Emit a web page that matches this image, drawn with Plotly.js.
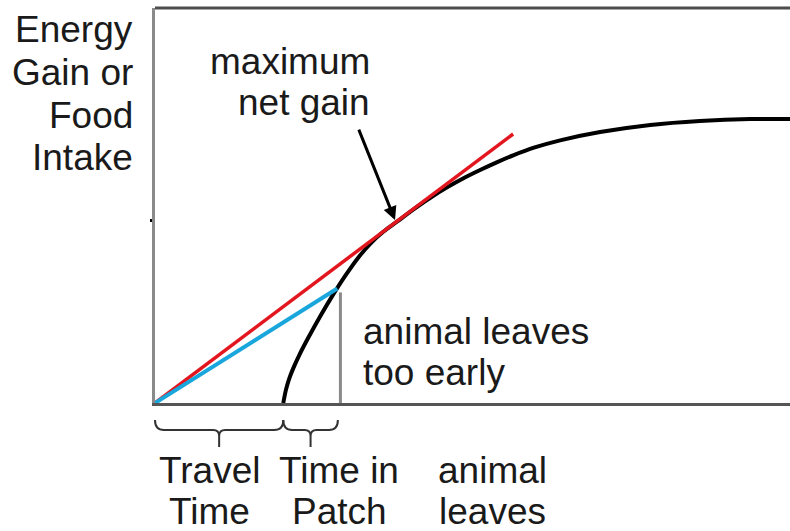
<!DOCTYPE html>
<html>
<head>
<meta charset="utf-8">
<script src="https://cdn.plot.ly/plotly-3.0.1.min.js"></script>
<style>html,body{margin:0;padding:0;background:#fff;}#chart{width:790px;height:531px;}</style>
</head>
<body>
<div id="chart"></div>
<script>
// Gain curve (time, cumulative energy gain)
const curveX = [2.02, 2.06, 2.11, 2.18, 2.28, 2.42, 2.60, 2.80, 3.00, 3.20, 3.40, 3.60, 3.81, 4.06, 4.33, 4.60, 4.88, 5.12, 5.39, 5.64, 5.98, 6.38, 7.01, 7.80, 8.58, 9.37, 10.0];
const curveY = [0, 0.32, 0.60, 0.89, 1.24, 1.67, 2.19, 2.73, 3.23, 3.68, 4.05, 4.34, 4.59, 4.89, 5.19, 5.46, 5.71, 5.90, 6.10, 6.27, 6.47, 6.65, 6.86, 7.04, 7.14, 7.19, 7.19];
// Optimal rate line (tangent) and early-leave line
const optimalX = [0, 5.64];
const optimalY = [0, 6.81];
const earlyX = [0, 2.87];
const earlyY = [0, 2.90];
// Early-leave marker
const leaveX = [2.92, 2.92];
const leaveY = [0, 2.80];
// Tangent point and tick
const tangentPoint = [3.78, 4.63];
const yTickVals = [4.63];
// Brace intervals
const travelInterval = [0, 2.02];
const patchInterval = [2.02, 2.88];
// Texts
const yTitleLines = ["Energy", "Gain or", "Food", "Intake"];
const maxLabel = ["maximum", "net gain"];
const earlyLabel = ["animal leaves", "too early"];
const travelLabel = ["Travel", "Time"];
const patchLabel = ["Time in", "Patch"];
const leavesLabel = ["animal", "leaves"];

const XR = [0, 10], YR = [0, 10];
const L = 155, T = 8, W = 635, H = 395;
const px = (x) => (x - L) / W;           // pixel -> paper x
const py = (y) => (T + H - y) / H;       // pixel -> paper y
const dx = (x) => (x - XR[0]) / (XR[1] - XR[0]); // data -> paper x

const FONT = {family: "Liberation Sans, Arial, sans-serif", size: 37, color: "#1a1a1a"};

const traces = [
  {x: curveX, y: curveY, mode: "lines", line: {color: "#000", width: 4, shape: "spline", smoothing: 0.8}, hoverinfo: "skip"},
  {x: optimalX, y: optimalY, mode: "lines", line: {color: "#e3161f", width: 3.5}, hoverinfo: "skip"},
  {x: earlyX, y: earlyY, mode: "lines", line: {color: "#19a6dc", width: 4}, hoverinfo: "skip"},
  {x: leaveX, y: leaveY, mode: "lines", line: {color: "#8a8a8a", width: 3}, hoverinfo: "skip"}
];

const ann = [];
function label(text, x, y, xanchor) {
  ann.push({text: text, xref: "paper", yref: "paper", x: px(x), y: py(y), xanchor: xanchor, yanchor: "middle", showarrow: false, font: FONT});
}
yTitleLines.forEach((t, i) => label(t, 135, 30 + i * 42.5, "right"));
maxLabel.forEach((t, i) => label(t, 372, 61 + i * 41, "right"));
earlyLabel.forEach((t, i) => label(t, 361, 331 + i * 41, "left"));
travelLabel.forEach((t, i) => label(t, 209, 470 + i * 41, "center"));
patchLabel.forEach((t, i) => label(t, 339, 470 + i * 41, "center"));
leavesLabel.forEach((t, i) => label(t, 492, 470 + i * 41, "center"));

// arrows
ann.push({text: "", x: tangentPoint[0], y: tangentPoint[1], xref: "x", yref: "y",
  ax: 3.20, ay: 6.96, axref: "x", ayref: "y", showarrow: true, arrowhead: 2, arrowsize: 0.9, arrowwidth: 3, arrowcolor: "#000", standoff: 0});
ann.push({text: "", x: leaveX[0] + 0.07, y: -0.12, xref: "x", yref: "y",
  ax: 4.49, ay: -1.29, axref: "x", ayref: "y", showarrow: true, arrowhead: 2, arrowsize: 0.9, arrowwidth: 3, arrowcolor: "#000", standoff: 0});

function brace(a, b) {
  const x0 = dx(a), x1 = dx(b), m = (x0 + x1) / 2;
  const r = 9 / W, rs = 6 / W;
  const yt = py(420), yh = py(430), yc = py(436), yb = py(447);
  return {type: "path", xref: "paper", yref: "paper", line: {color: "#333", width: 2},
    path: `M${x0},${yt} Q${x0},${yh} ${x0 + r},${yh} L${m - rs},${yh} Q${m},${yh} ${m},${yc} L${m},${yb} M${m},${yc} Q${m},${yh} ${m + rs},${yh} L${x1 - r},${yh} Q${x1},${yh} ${x1},${yt}`};
}

const shapes = [
  {type: "line", xref: "paper", yref: "paper", x0: 0, x1: 1, y0: 1, y1: 1, line: {color: "#4d4d4d", width: 3}},
  brace(travelInterval[0], travelInterval[1]),
  brace(patchInterval[0], patchInterval[1])
];

const layout = {
  width: 790, height: 531,
  margin: {l: L, r: 0, t: T, b: 531 - T - H},
  paper_bgcolor: "#fff", plot_bgcolor: "#fff",
  showlegend: false,
  xaxis: {range: XR, showgrid: false, zeroline: false, showline: true, linecolor: "#555", linewidth: 2.5, showticklabels: false, ticks: "", fixedrange: true},
  yaxis: {range: YR, showgrid: false, zeroline: false, showline: true, linecolor: "#8a8a8a", linewidth: 3, tickvals: yTickVals, ticks: "outside", ticklen: 2, tickwidth: 3, tickcolor: "#000", showticklabels: false, fixedrange: true},
  annotations: ann,
  shapes: shapes
};

Plotly.newPlot("chart", traces, layout, {displayModeBar: false, staticPlot: true});
</script>
</body>
</html>
